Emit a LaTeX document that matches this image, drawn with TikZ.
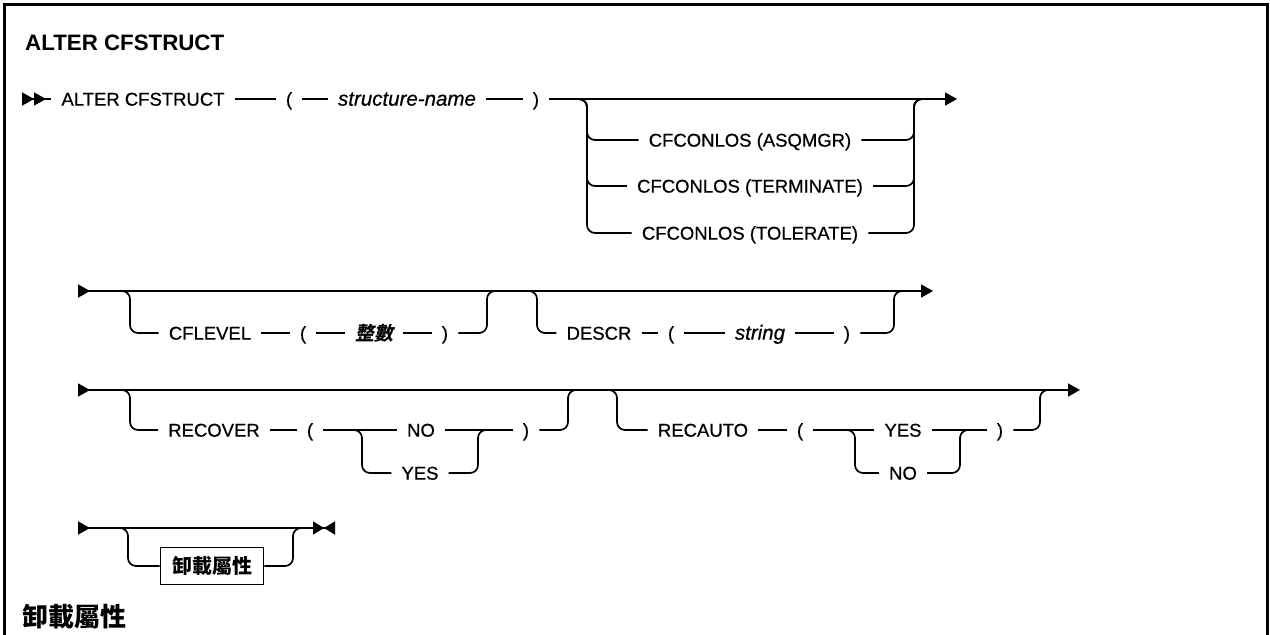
\documentclass[tikz,border=0pt]{standalone}
\usepackage{fontspec}
\setmainfont{Liberation Sans}
\newfontfamily\railfamily[FakeBold=0.6]{Liberation Sans}
\newfontfamily\cjkfont{Noto Sans CJK TC}
\newfontfamily\cjkslantfont[FakeSlant=0.2]{Noto Sans CJK TC}
\usetikzlibrary{arrows.meta,positioning}
\newcommand\railfont{\railfamily\fontsize{18.5}{22}\selectfont}
\newcommand\varfont{\railfamily\fontsize{20.5}{24}\selectfont\itshape}

\begin{document}
\begin{tikzpicture}[
    x=1pt,y=-1pt,
    rail/.style={line width=1.7pt,draw=black},
    branch/.style={rail,rounded corners=8pt},
    kw/.style={font=\railfont,inner xsep=10pt,inner ysep=0pt,text height=13.3pt,text depth=0pt},
    var/.style={kw,font=\varfont},
    cjkvar/.style={kw,font=\cjkslantfont\bfseries\fontsize{19}{23}\selectfont,text height=14.4pt},
    optbox/.style={draw,line width=1.7pt,font=\cjkfont\bfseries\fontsize{20}{24}\selectfont,
      minimum width=103pt,minimum height=37pt,inner sep=0pt},
    rowtips/.style={{Triangle[reversed,length=12pt,width=13pt]}-{Triangle[length=12pt,width=13pt]}}
  ]
  \useasboundingbox (0,0) rectangle (1270,635);
  % frame
  \draw[line width=3pt] (4,650) -- (4,4) -- (1267,4) -- (1267,650);
  \node[anchor=west,inner sep=0pt,font=\bfseries\fontsize{22.3}{26}\selectfont] (title) at (25,43) {ALTER CFSTRUCT};
  \node[anchor=west,inner sep=0pt,font=\cjkfont\bfseries\fontsize{26}{30}\selectfont] (subtitle) at (22,617) {卸載屬性};

  % row 1
  \coordinate (s1) at (22,99);
  \coordinate (e1) at (957,99);
  \coordinate (b1l) at (587,99);
  \coordinate (b1r) at (914,99);
  \node[kw] (alter) at (143,99) {ALTER CFSTRUCT};
  \node[kw] (lp1) at (289,99) {(};
  \node[var] (sname) at (407,99) {structure-name};
  \node[kw] (rp1) at (536,99) {)};
  \node[kw] (asq) at (750,140) {CFCONLOS (ASQMGR)};
  \node[kw] (term) at (750,186) {CFCONLOS (TERMINATE)};
  \node[kw] (tol) at (750,233) {CFCONLOS (TOLERATE)};
  \draw[rail,{Triangle[reversed,length=12pt,width=13pt]Triangle[reversed,length=12pt,width=13pt]}-] (s1) -- (alter);
  \draw[rail] (alter) -- (lp1) (lp1) -- (sname) (sname) -- (rp1);
  \draw[rail,-{Triangle[length=12pt,width=13pt]}] (rp1) -- (e1);
  \foreach \opt in {asq,term,tol}{
    \draw[branch] ([xshift=-12pt]b1l) -- (b1l) |- (\opt.west);
    \draw[branch] (\opt.east) -| (b1r) -- ([xshift=12pt]b1r);
  }

  % row 2
  \coordinate (s2) at (78,291);
  \coordinate (e2) at (933,291);
  \coordinate (b2l) at (130,291);
  \coordinate (b2r) at (487,291);
  \coordinate (b3l) at (537,291);
  \coordinate (b3r) at (894,291);
  \draw[rail,rowtips] (s2) -- (e2);
  \node[kw] (cflevel) at (210,333) {CFLEVEL};
  \node[kw] (lp2) at (303,333) {(};
  \node[cjkvar] (level) at (374,333) {整數};
  \node[kw] (rp2) at (445,333) {)};
  \draw[branch] ([xshift=-12pt]b2l) -- (b2l) |- (cflevel.west);
  \draw[rail] (cflevel) -- (lp2) (lp2) -- (level) (level) -- (rp2);
  \draw[branch] (rp2.east) -| (b2r) -- ([xshift=12pt]b2r);
  \node[kw] (descr) at (599,333) {DESCR};
  \node[kw] (lp3) at (671,333) {(};
  \node[var] (strng) at (760,333) {string};
  \node[kw] (rp3) at (847,333) {)};
  \draw[branch] ([xshift=-12pt]b3l) -- (b3l) |- (descr.west);
  \draw[rail] (descr) -- (lp3) (lp3) -- (strng) (strng) -- (rp3);
  \draw[branch] (rp3.east) -| (b3r) -- ([xshift=12pt]b3r);

  % row 3
  \coordinate (s3) at (78,390);
  \coordinate (e3) at (1080,390);
  \coordinate (b4l) at (130,390);
  \coordinate (b4r) at (568,390);
  \coordinate (i4l) at (362,430);
  \coordinate (i4r) at (478,430);
  \coordinate (b5l) at (617,390);
  \coordinate (b5r) at (1040,390);
  \coordinate (i5l) at (855,430);
  \coordinate (i5r) at (960,430);
  \draw[rail,rowtips] (s3) -- (e3);
  \node[kw] (recover) at (214,430) {RECOVER};
  \node[kw] (lp4) at (310,430) {(};
  \node[kw] (no4) at (421,430) {NO};
  \node[kw] (yes4) at (420,473) {YES};
  \node[kw] (rp4) at (526,430) {)};
  \draw[branch] ([xshift=-12pt]b4l) -- (b4l) |- (recover.west);
  \draw[rail] (recover) -- (lp4) (lp4) -- (no4) (no4) -- (rp4);
  \draw[branch] ([xshift=-12pt]i4l) -- (i4l) |- (yes4.west);
  \draw[branch] (yes4.east) -| (i4r) -- ([xshift=12pt]i4r);
  \draw[branch] (rp4.east) -| (b4r) -- ([xshift=12pt]b4r);
  \node[kw] (recauto) at (703,430) {RECAUTO};
  \node[kw] (lp5) at (800,430) {(};
  \node[kw] (yes5) at (903,430) {YES};
  \node[kw] (no5) at (903,473) {NO};
  \node[kw] (rp5) at (1000,430) {)};
  \draw[branch] ([xshift=-12pt]b5l) -- (b5l) |- (recauto.west);
  \draw[rail] (recauto) -- (lp5) (lp5) -- (yes5) (yes5) -- (rp5);
  \draw[branch] ([xshift=-12pt]i5l) -- (i5l) |- (no5.west);
  \draw[branch] (no5.east) -| (i5r) -- ([xshift=12pt]i5r);
  \draw[branch] (rp5.east) -| (b5r) -- ([xshift=12pt]b5r);

  % row 4
  \coordinate (s4) at (78,528);
  \coordinate (e4) at (335,528);
  \coordinate (b6l) at (128,528);
  \coordinate (b6r) at (293,528);
  \node[optbox] (unload) at (212,566) {卸載屬性};
  \draw[rail,{Triangle[reversed,length=12pt,width=13pt]}-{Triangle[length=11pt,width=13pt]Triangle[reversed,length=11pt,width=13pt]}] (s4) -- (e4);
  \draw[branch] ([xshift=-12pt]b6l) -- (b6l) |- (unload.west);
  \draw[branch] (unload.east) -| (b6r) -- ([xshift=12pt]b6r);
\end{tikzpicture}
\end{document}
